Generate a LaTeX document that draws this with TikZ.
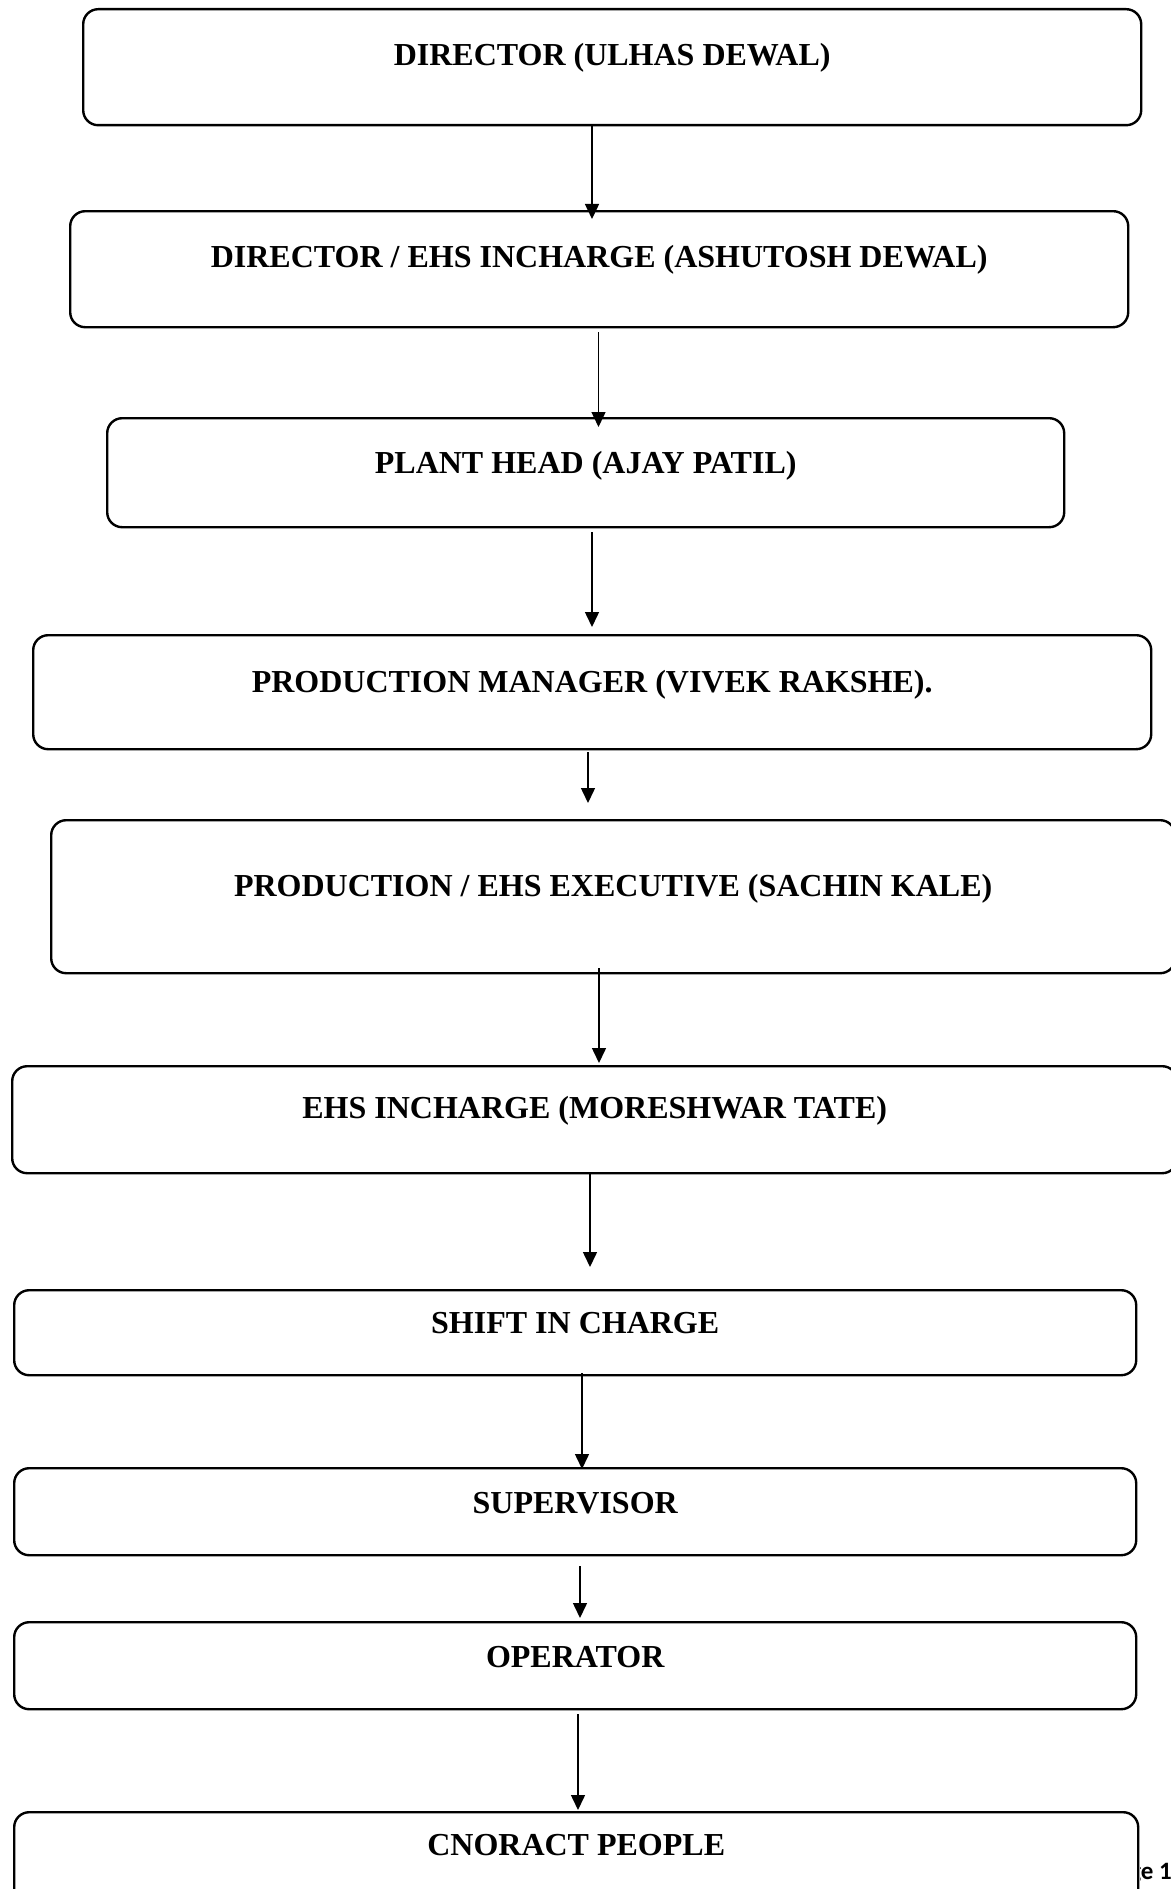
\documentclass[tikz,border=0pt]{standalone}
\usepackage{fontspec}
\setmainfont{Liberation Serif}
\newfontfamily\pagefont{Carlito}
\usetikzlibrary{arrows.meta,positioning}

\begin{document}
\begin{tikzpicture}[x=1pt,y=-1pt,
  BoxStyle/.style={draw,line width=2.4pt,rounded corners=15pt,fill=white,anchor=north west,inner sep=0pt},
  TxtStyle/.style={font=\bfseries\fontsize{32}{38}\selectfont,anchor=base,inner sep=0pt},
  FlowStyle/.style={-{Triangle[length=15pt,width=14pt]},line width=1.5pt}]
\useasboundingbox (0,0) rectangle (1170,1889);

\begin{scope}
\clip (1140,1840) rectangle (1170,1889);
\node[font=\pagefont\bfseries\fontsize{25}{30}\selectfont,anchor=base east,inner sep=0pt] (Pg) at (1172,1879) {Page 1};
\end{scope}

\node[BoxStyle,minimum width=1058pt,minimum height=116pt] (B1) at (82,8) {};
\node[BoxStyle,minimum width=1058pt,minimum height=116pt] (B2) at (69,210) {};
\node[BoxStyle,minimum width=957pt,minimum height=109pt] (B3) at (106,417) {};
\node[BoxStyle,minimum width=1118pt,minimum height=114pt] (B4) at (32,634) {};
\node[BoxStyle,minimum width=1124pt,minimum height=153pt] (B5) at (50,819) {};
\node[BoxStyle,minimum width=1165pt,minimum height=107pt] (B6) at (11,1065) {};
\node[BoxStyle,minimum width=1122pt,minimum height=85pt] (B7) at (13,1289) {};
\node[BoxStyle,minimum width=1122pt,minimum height=87pt] (B8) at (13,1467) {};
\node[BoxStyle,minimum width=1122pt,minimum height=87pt] (B9) at (13,1621) {};
\node[BoxStyle,minimum width=1124pt,minimum height=109pt] (B10) at (13,1811) {};

\node[TxtStyle] (L1) at (B1.north |- 0,65.5) {DIRECTOR (ULHAS DEWAL)};
\node[TxtStyle] (L2) at (B2.north |- 0,267.5) {DIRECTOR / EHS INCHARGE (ASHUTOSH DEWAL)};
\node[TxtStyle] (L3) at (B3.north |- 0,473) {PLANT HEAD (AJAY PATIL)};
\node[TxtStyle] (L4) at (B4.north |- 0,692.5) {PRODUCTION MANAGER (VIVEK RAKSHE).};
\node[TxtStyle] (L5) at (B5.north |- 0,896) {PRODUCTION / EHS EXECUTIVE (SACHIN KALE)};
\node[TxtStyle] (L6) at (B6.north |- 0,1118.5) {EHS INCHARGE (MORESHWAR TATE)};
\node[TxtStyle] (L7) at (B7.north |- 0,1333.5) {SHIFT IN CHARGE};
\node[TxtStyle] (L8) at (B8.north |- 0,1513.5) {SUPERVISOR};
\node[TxtStyle] (L9) at (B9.north |- 0,1667.5) {OPERATOR};
\node[TxtStyle] (L10) at (B10.north |- 0,1855.5) {CNORACT PEOPLE};

\draw[FlowStyle,shorten >=-9pt] (592,0 |- B1.south) -- (592,0 |- B2.north);
\draw[FlowStyle,shorten <=4pt,shorten >=-10pt] (598.5,0 |- B2.south) -- (598.5,0 |- B3.north);
\draw[FlowStyle,shorten <=4pt,shorten >=7pt] (592,0 |- B3.south) -- (592,0 |- B4.north);
\draw[FlowStyle,shorten <=2pt,shorten >=16pt] (588,0 |- B4.south) -- (588,0 |- B5.north);
\draw[FlowStyle,shorten <=-6pt,shorten >=2pt] (599,0 |- B5.south) -- (599,0 |- B6.north);
\draw[FlowStyle,shorten >=22pt] (590,0 |- B6.south) -- (590,0 |- B7.north);
\draw[FlowStyle,shorten <=-3pt,shorten >=-2pt] (582,0 |- B7.south) -- (582,0 |- B8.north);
\draw[FlowStyle,shorten <=10pt,shorten >=3pt] (580,0 |- B8.south) -- (580,0 |- B9.north);
\draw[FlowStyle,shorten <=4pt,shorten >=1pt] (578,0 |- B9.south) -- (578,0 |- B10.north);

\end{tikzpicture}
\end{document}
